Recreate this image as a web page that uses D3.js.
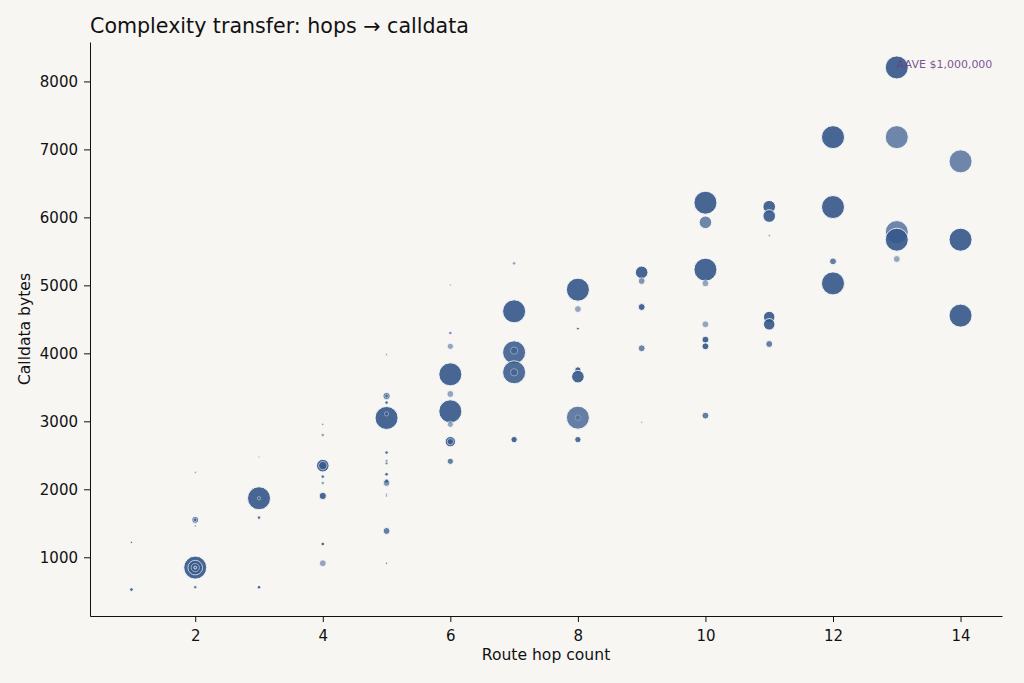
<!DOCTYPE html>
<html>
<head>
<meta charset="utf-8">
<script src="https://cdn.jsdelivr.net/npm/d3@7/dist/d3.min.js"></script>
<style>
  body { margin: 0; background: #f7f6f3; }
  svg { display: block; font-family: "DejaVu Sans", sans-serif; }
</style>
</head>
<body>
<div id="chart"></div>
<script>
// route hop count per transfer
const hops = [
  1, 1,
  2, 2, 2, 2, 2, 2, 2, 2, 2, 2,
  3, 3, 3, 3, 3,
  4, 4, 4, 4, 4, 4, 4, 4, 4,
  5, 5, 5, 5, 5, 5, 5, 5, 5, 5, 5, 5, 5, 5, 5, 5,
  6, 6, 6, 6, 6, 6, 6, 6, 6, 6,
  7, 7, 7, 7, 7, 7, 7,
  8, 8, 8, 8, 8, 8, 8, 8,
  9, 9, 9, 9, 9,
  10, 10, 10, 10, 10, 10, 10, 10,
  11, 11, 11, 11, 11, 11,
  12, 12, 12, 12,
  13, 13, 13, 13, 13,
  14, 14, 14
];
// calldata bytes
const calldata = [
  525, 1220,
  2250, 1550, 1550, 1460, 848, 848, 848, 848, 560, 848,
  2475, 1868, 1868, 1583, 559,
  2956, 2799, 2348, 2348, 2186, 2093, 1902, 1196, 912,
  3980, 3372, 3372, 3275, 3049, 3110, 2540, 2417, 2383, 2221, 2123, 2093, 1927, 1902, 1387, 912,
  5005, 4299, 4103, 3691, 3402, 3147, 2956, 2701, 2701, 2412,
  5324, 4618, 4015, 4040, 3721, 3721, 2731,
  4937, 4651, 4363, 3755, 3657, 3054, 3054, 2731,
  5191, 5064, 4681, 4074, 2985,
  6216, 5927, 5231, 5029, 4427, 4201, 4103, 3084,
  6157, 6020, 5735, 4534, 4427, 4137,
  7180, 6152, 5353, 5029,
  8206, 7180, 5784, 5672, 5387,
  6824, 5672, 4555
];
// transfer amount in USD (bubble area)
const amountUsd = [
  25000, 8000,
  5000, 90000, 25000, 8000, 1000000, 400000, 130000, 20000, 25000, 3000,
  5000, 1000000, 20000, 25000, 25000,
  8000, 25000, 300000, 130000, 25000, 25000, 100000, 25000, 90000,
  8000, 100000, 25000, 25000, 1000000, 35000, 25000, 20000, 20000, 25000, 35000, 90000, 8000, 8000, 90000, 5000,
  4000, 25000, 75000, 1000000, 90000, 1000000, 75000, 200000, 75000, 75000,
  25000, 1000000, 1000000, 100000, 1000000, 100000, 75000,
  1000000, 90000, 15000, 75000, 300000, 1000000, 60000, 75000,
  300000, 90000, 90000, 90000, 5000,
  1000000, 300000, 1000000, 90000, 90000, 90000, 90000, 90000,
  300000, 300000, 5000, 250000, 250000, 90000,
  1000000, 1000000, 90000, 1000000,
  1000000, 1000000, 1000000, 1000000, 90000,
  1000000, 1000000, 1000000
];
// route confidence (drives opacity)
const confidence = [
  0.9, 0.9,
  0.7, 0.8, 0.6, 0.9, 0.9, 0.75, 0.6, 0.6, 0.7, 0.6,
  0.6, 0.9, 0.5, 0.8, 0.9,
  0.8, 0.5, 0.9, 0.6, 0.8, 0.5, 0.9, 0.9, 0.5,
  0.6, 0.8, 0.6, 0.8, 0.9, 0.4, 0.8, 0.6, 0.6, 0.9, 0.9, 0.6, 0.7, 0.7, 0.75, 0.9,
  0.6, 0.6, 0.5, 0.9, 0.5, 0.9, 0.5, 0.9, 0.6, 0.75,
  0.5, 0.9, 0.85, 0.4, 0.85, 0.4, 0.9,
  0.9, 0.5, 0.9, 0.9, 0.9, 0.75, 0.25, 0.85,
  0.9, 0.6, 0.9, 0.7, 0.5,
  0.9, 0.7, 0.9, 0.5, 0.5, 0.9, 0.9, 0.75,
  0.9, 0.9, 0.7, 0.9, 0.9, 0.75,
  0.9, 0.9, 0.75, 0.9,
  0.9, 0.7, 0.7, 0.9, 0.5,
  0.7, 0.9, 0.9
];
const xTicks = [2, 4, 6, 8, 10, 12, 14];
const yTicks = [1000, 2000, 3000, 4000, 5000, 6000, 7000, 8000];
const annotation = { hops: 13, calldata: 8206, text: "AAVE $1,000,000" };

const W = 1024, H = 683;
const margin = {top: 42, right: 22, bottom: 67, left: 90};
const width = W - margin.left - margin.right;
const height = H - margin.top - margin.bottom;

const points = hops.map((h, i) => ({hops: h, calldata: calldata[i], usd: amountUsd[i], conf: confidence[i]}));

const svg = d3.select("#chart").append("svg")
  .attr("width", W)
  .attr("height", H);

svg.append("rect").attr("width", W).attr("height", H).attr("fill", "#f7f6f3");

const g = svg.append("g")
  .attr("transform", "translate(" + margin.left + "," + margin.top + ")");

const x = d3.scaleLinear().domain([0.35, 14.65]).range([0, width]);
const y = d3.scaleLinear().domain([136, 8580]).range([height, 0]);
const r = d3.scaleSqrt().domain([0, 1000000]).range([0, 11.5]);

// bubbles
g.append("g").selectAll("circle")
  .data(points)
  .enter().append("circle")
  .attr("cx", d => x(d.hops))
  .attr("cy", d => y(d.calldata))
  .attr("r", d => Math.max(1.1, r(d.usd)))
  .attr("fill", "#34578a")
  .attr("opacity", d => d.conf)
  .attr("stroke", "#ffffff")
  .attr("stroke-width", 0.9);

// axes
const xAxis = g.append("g")
  .attr("transform", "translate(0," + height + ")")
  .call(d3.axisBottom(x).tickValues(xTicks).tickSizeInner(6).tickSizeOuter(0).tickPadding(5));
const yAxis = g.append("g")
  .call(d3.axisLeft(y).tickValues(yTicks).tickSizeInner(6).tickSizeOuter(0).tickPadding(6).tickFormat(d3.format("d")));

[xAxis, yAxis].forEach(a => {
  a.attr("font-size", null).attr("font-family", null);
  a.selectAll("text").attr("font-size", 15).attr("fill", "#111");
  a.selectAll("line").attr("stroke", "#111");
  a.select(".domain").attr("stroke", "#111");
});
xAxis.selectAll("text").attr("dy", "0.9em");

// annotation
g.append("text")
  .attr("x", x(annotation.hops))
  .attr("y", y(annotation.calldata) - 3)
  .attr("dy", "0.35em")
  .attr("font-size", 11)
  .attr("fill", "#6b3f86")
  .attr("fill-opacity", 0.9)
  .text(annotation.text);

// labels
svg.append("text")
  .attr("x", margin.left + width / 2)
  .attr("y", 660)
  .attr("text-anchor", "middle")
  .attr("font-size", 15.6)
  .attr("fill", "#111")
  .text("Route hop count");

svg.append("text")
  .attr("transform", "translate(30," + (margin.top + height / 2) + ") rotate(-90)")
  .attr("text-anchor", "middle")
  .attr("font-size", 15.6)
  .attr("fill", "#111")
  .text("Calldata bytes");

svg.append("text")
  .attr("x", 90)
  .attr("y", 33)
  .attr("font-size", 20.6)
  .attr("fill", "#111")
  .text("Complexity transfer: hops \u2192 calldata");
</script>
</body>
</html>
